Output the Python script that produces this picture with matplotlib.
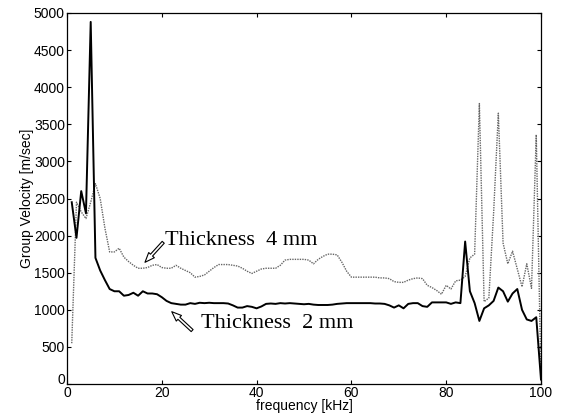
import numpy as np
import matplotlib
matplotlib.use('Agg')
import matplotlib.pyplot as plt
import matplotlib.transforms as mtransforms

# ----------
# Data (frequency in kHz, group velocity in m/sec)

freq = np.arange(1, 101)

thick_2mm = [2450, 1970, 2600, 2300, 4880, 1700, 1530, 1400, 1280, 1250,
             1250, 1190, 1200, 1230, 1190, 1250, 1220, 1220, 1210, 1170,
             1120, 1090, 1080, 1070, 1070, 1090, 1080, 1095, 1090, 1095,
             1090, 1090, 1090, 1085, 1060, 1030, 1030, 1050, 1040, 1020,
             1045, 1080, 1085, 1080, 1090, 1085, 1090, 1085, 1080, 1075,
             1080, 1070, 1065, 1065, 1065, 1070, 1080, 1085, 1090, 1090,
             1090, 1090, 1090, 1090, 1085, 1085, 1080, 1060, 1030, 1060,
             1020, 1080, 1090, 1090, 1050, 1040, 1100, 1100, 1100, 1100,
             1080, 1100, 1090, 1920, 1250, 1090, 850, 1020, 1060, 1120,
             1300, 1250, 1110, 1220, 1280, 1000, 870, 850, 900, 60]

thick_4mm = [550, 2450, 2320, 2230, 2450, 2700, 2500, 2100, 1780, 1780,
             1830, 1710, 1650, 1600, 1560, 1560, 1570, 1600, 1610, 1570,
             1560, 1560, 1600, 1560, 1530, 1500, 1440, 1450, 1470, 1520,
             1570, 1610, 1610, 1610, 1600, 1590, 1560, 1520, 1490, 1520,
             1550, 1560, 1560, 1560, 1600, 1670, 1680, 1680, 1680, 1680,
             1670, 1620, 1680, 1720, 1750, 1750, 1740, 1640, 1520, 1440,
             1440, 1440, 1440, 1440, 1440, 1430, 1430, 1420, 1380, 1370,
             1370, 1400, 1420, 1430, 1420, 1330, 1300, 1260, 1210, 1330,
             1280, 1390, 1400, 1450, 1700, 1750, 3780, 1110, 1160, 2300,
             3650, 1900, 1620, 1790, 1550, 1310, 1620, 1290, 3360, 60]

xticks = [0, 20, 40, 60, 80, 100]
yticks = np.arange(0, 5001, 500)

# ----------

matplotlib.rc('xtick', direction='in', top=True)
matplotlib.rc('ytick', direction='in', right=True)

fig = plt.figure(figsize=(5.64, 4.18), dpi=100, facecolor='white')
axes = fig.add_axes([0.1188, 0.0813, 0.8404, 0.8876])

axes.plot(freq, thick_4mm, color='0.4', linestyle=(0, (1, 0.8)), linewidth=1.0)
axes.plot(freq, thick_2mm, color='black', linestyle='-', linewidth=1.4)

axes.set_xlim(0, 100)
axes.set_ylim(0, 5000)
axes.set_xticks(xticks)
axes.set_yticks(yticks)
for spine in axes.spines.values():
    spine.set_linewidth(0.9)

sans = 'Liberation Sans'
for label in axes.get_xticklabels() + axes.get_yticklabels():
    label.set_fontfamily(sans)
    label.set_fontsize(10)
axes.tick_params(length=3, width=0.8, pad=1.5)

# The y "0" sits a little above the x "0" in the corner
lab0 = axes.get_yticklabels()[0]
lab0.set_transform(lab0.get_transform() +
                   mtransforms.ScaledTranslation(0, 4 / 72, fig.dpi_scale_trans))

axes.set_xlabel('frequency [kHz]', family=sans, fontsize=10, labelpad=-1)
axes.set_ylabel('Group Velocity [m/sec]', family=sans, fontsize=10, labelpad=0)

# Hollow arrows + labels for the two curves
arrow = dict(arrowstyle='simple,head_length=0.7,head_width=0.55,tail_width=0.2',
             fc='white', ec='black', lw=0.8, shrinkA=0, shrinkB=0)

axes.annotate('', xy=(16.45, 1640), xytext=(20.3, 1910), arrowprops=arrow)
axes.text(20.7, 1935, 'Thickness  4 mm', family='Liberation Serif',
          fontsize=16, ha='left', va='center')

axes.annotate('', xy=(22.1, 975), xytext=(26.4, 720), arrowprops=arrow)
axes.text(28.3, 815, 'Thickness  2 mm', family='Liberation Serif',
          fontsize=16, ha='left', va='center')

plt.savefig('out.png', dpi=100, facecolor='white')
